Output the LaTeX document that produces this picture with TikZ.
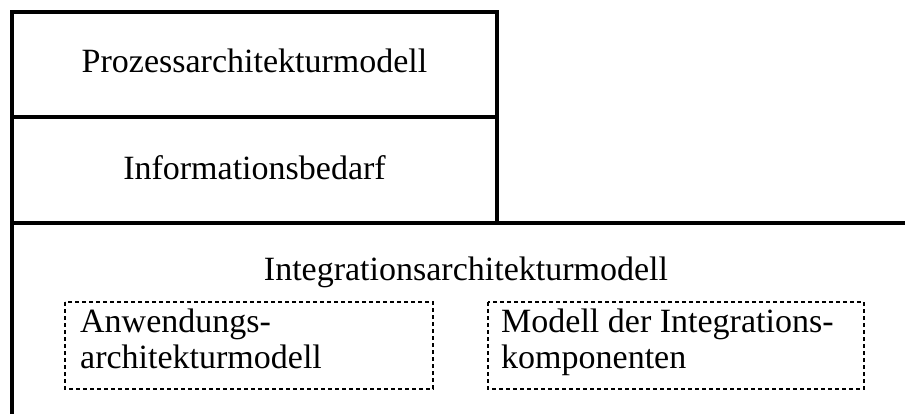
\documentclass[tikz,border=0pt]{standalone}
\usepackage{fontspec}
\setmainfont{Liberation Serif}
\begin{document}
\begin{tikzpicture}[x=1pt,y=-1pt,
  frame/.style={line width=3.2pt, line cap=rect},
  label/.style={font=\fontsize{34}{37}\selectfont, inner sep=0pt, anchor=base},
  sublabel/.style={font=\fontsize{34}{36}\selectfont, inner sep=0pt, align=left, anchor=base west},
  subbox/.style={draw, line width=1.3pt, dash pattern=on 4pt off 3pt, inner sep=0pt}]
\useasboundingbox (0,0) rectangle (905,414);
% upper two layers
\coordinate (tl) at (12,12);
\coordinate (tr) at (497,12);
\coordinate (ml) at (12,117);
\coordinate (mr) at (497,117);
\coordinate (bl) at (12,223);
\coordinate (br) at (497,223);
\coordinate (be) at (905,223);
\coordinate (bottom) at (12,414);
\draw[frame] (bl) -- (tl) -- (tr) -- (br);
\draw[frame] (ml) -- (mr);
\draw[frame] (bl) -- (be);
\draw[frame] (bl) -- (bottom);
\node[label] (prozess) at (254.5,73) {Prozessarchitekturmodell};
\node[label] (info) at (254.5,180) {Informationsbedarf};
% lower layer
\node[label] (integ) at (466,280) {Integrationsarchitekturmodell};
\draw[subbox] (65,302) rectangle (433,389);
\draw[subbox] (488,302) rectangle (864,389);
% the base of a multi-line node is the baseline of its last line
\node[sublabel] (anw) at (80,368) {Anwendungs-\\architekturmodell};
\node[sublabel] (komp) at (501,368) {Modell der Integrations-\\komponenten};
\end{tikzpicture}
\end{document}
